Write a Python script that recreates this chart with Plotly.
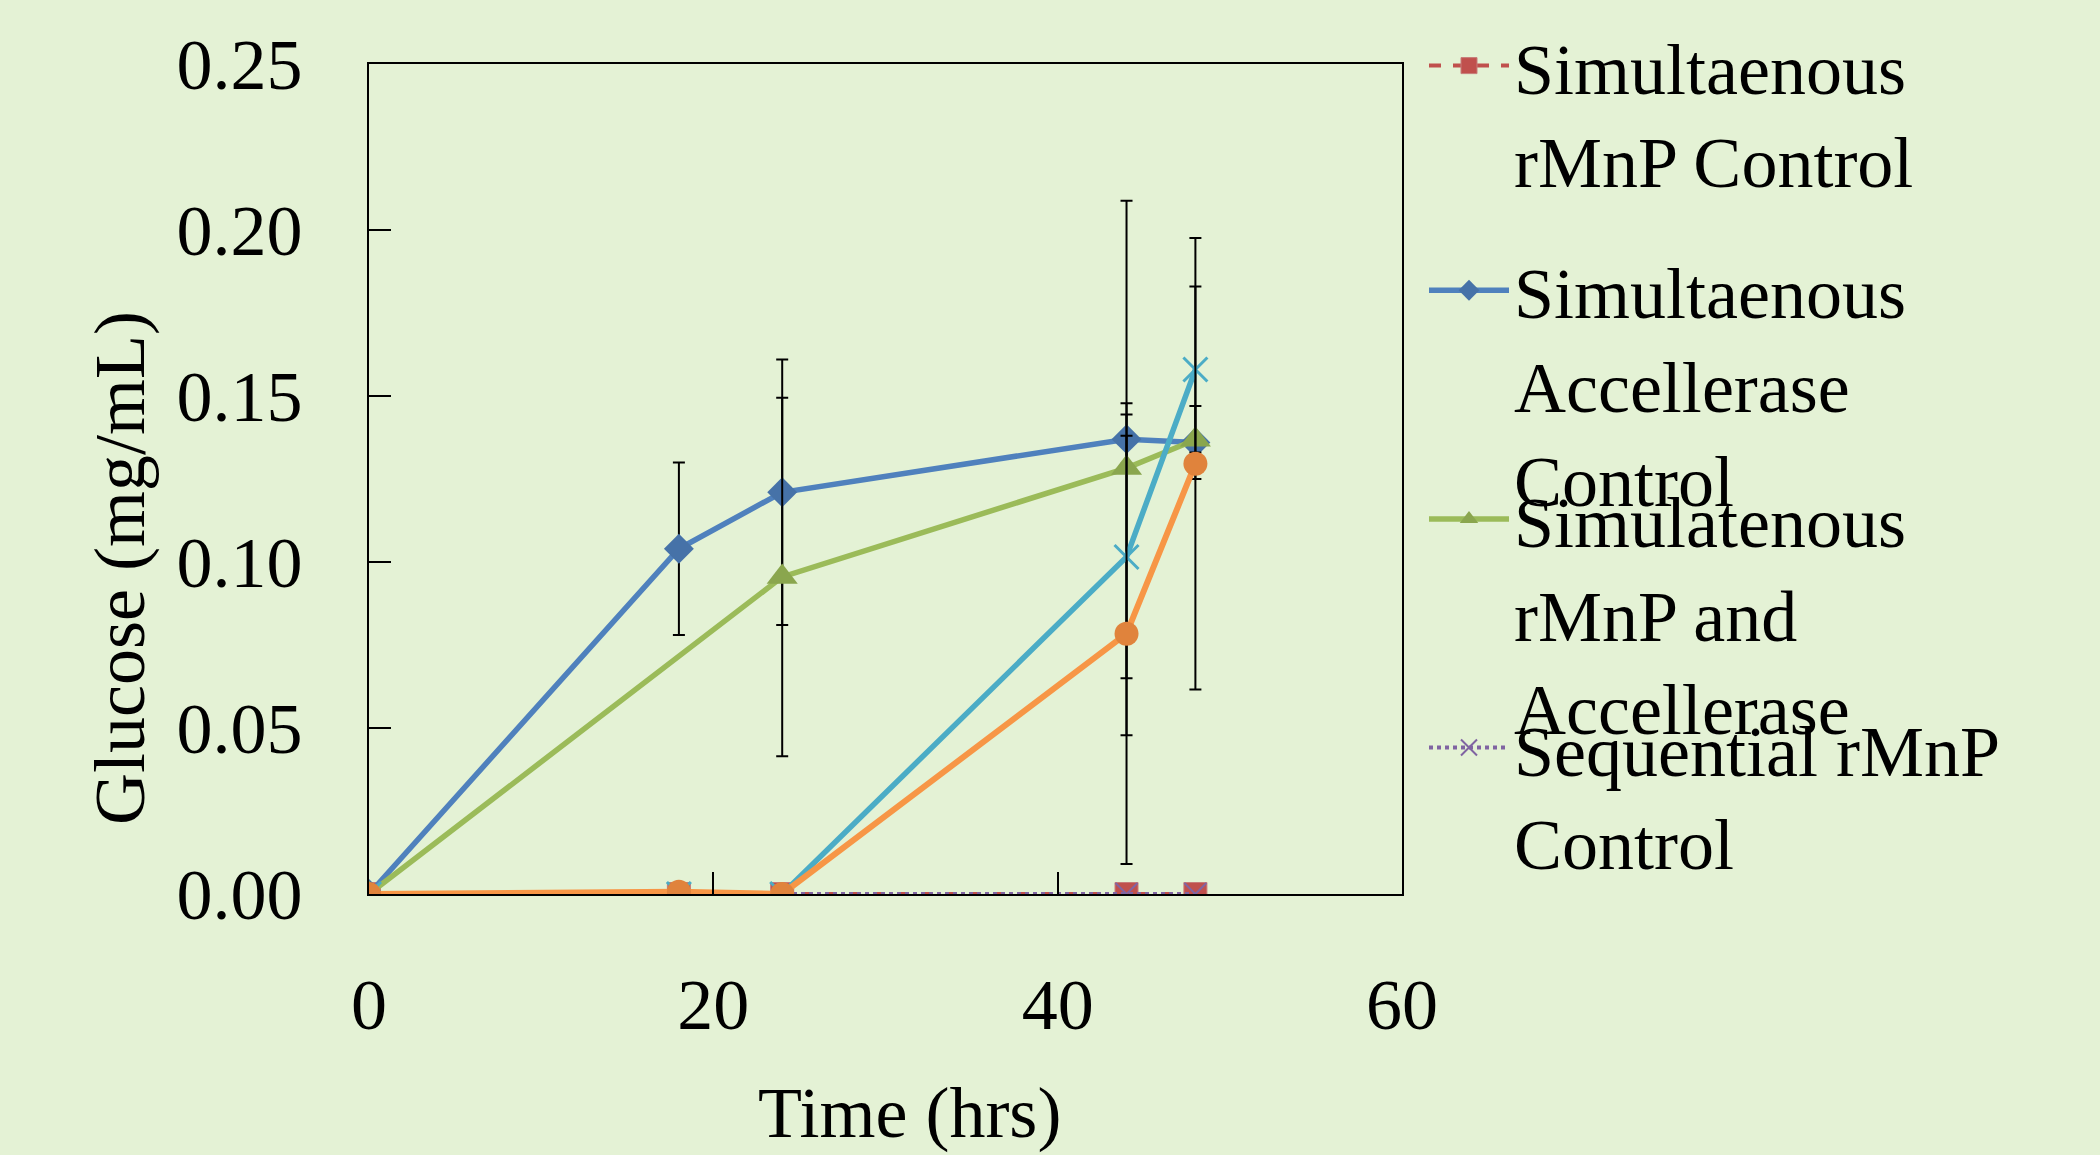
import plotly.graph_objects as go

# ---- data ----
time = [0, 18, 24, 44, 48]
time_green = [0, 24, 44, 48]

sim_rmnp_ctrl = [0, 0, 0, 0, 0]
sim_acc_ctrl = [0, 0.104, 0.121, 0.137, 0.136]
sim_acc_ctrl_err = [0, 0.026, 0.040, 0.0074, 0.011]
sim_rmnp_acc = [0, 0.0955, 0.1283, 0.1368]
sim_rmnp_acc_err = [0, 0.054, 0.0805, 0]
seq_rmnp_ctrl = [0, 0, 0, 0, 0]
seq_acc = [0, 0, 0, 0.1015, 0.158]
seq_acc_err = [0, 0, 0, 0.0365, 0.025]
seq_rmnp_acc = [0, 0.0007, 0, 0.0784, 0.1296]
seq_rmnp_acc_err = [0, 0, 0, 0.0694, 0.068]

names = [
    "Simultaenous<br>rMnP Control",
    "Simultaenous<br>Accellerase<br>Control",
    "Simulatenous<br>rMnP and<br>Accellerase",
    "Sequential rMnP<br>Control",
]

x_ticks = [0, 20, 40, 60]
y_ticks = [0, 0.05, 0.10, 0.15, 0.20, 0.25]

BG = "#E4F2D5"
FONT = "Liberation Serif"

def err(arr):
    return dict(type="data", array=arr, visible=True, color="black",
                thickness=2, width=6)

fig = go.Figure()

fig.add_trace(go.Scatter(
    x=time, y=sim_rmnp_ctrl, name=names[0], mode="lines+markers",
    legend="legend",
    line=dict(color="#C0504D", width=4, dash="dash"),
    marker=dict(symbol="square", size=23, color="#C0504D",
                line=dict(color="#C77C7A", width=1))))

fig.add_trace(go.Scatter(
    x=time, y=sim_acc_ctrl, name=names[1], mode="lines+markers",
    legend="legend2", error_y=err(sim_acc_ctrl_err),
    line=dict(color="#4F81BD", width=5.5),
    marker=dict(symbol="diamond", size=23, color="#4672A8")))

fig.add_trace(go.Scatter(
    x=time_green, y=sim_rmnp_acc, name=names[2], mode="lines+markers",
    legend="legend3", error_y=err(sim_rmnp_acc_err),
    line=dict(color="#9BBB59", width=5.5),
    marker=dict(symbol="triangle-up", size=27, color="#8AA64E")))

fig.add_trace(go.Scatter(
    x=time, y=seq_rmnp_ctrl, name=names[3], mode="lines+markers",
    legend="legend4",
    line=dict(color="#8064A2", width=4, dash="dot"),
    marker=dict(symbol="x-thin-open", size=22, color="#8064A2",
                line=dict(color="#8064A2", width=2))))

fig.add_trace(go.Scatter(
    x=time, y=seq_acc, name="Sequential Accellerase", mode="lines+markers",
    showlegend=False, error_y=err(seq_acc_err),
    line=dict(color="#4BACC6", width=5.5),
    marker=dict(symbol="x-thin-open", size=24, color="#4BACC6",
                line=dict(color="#4BACC6", width=3))))

fig.add_trace(go.Scatter(
    x=time, y=seq_rmnp_acc, name="Sequential rMnP and Accellerase",
    mode="lines+markers", showlegend=False, error_y=err(seq_rmnp_acc_err),
    line=dict(color="#F79646", width=6),
    marker=dict(symbol="circle", size=24, color="#E0833C")))

L, R, T, B = 369, 2100 - 1402, 59, 1155 - 894
PW, PH = 1402 - 369, 894 - 59

def leg(top_px):
    return dict(x=(1424 - L) / PW, xanchor="left",
                y=(894 - top_px) / PH, yanchor="top",
                valign="top", bgcolor="rgba(0,0,0,0)", borderwidth=0,
                font=dict(family=FONT, size=72, color="black"),
                itemwidth=80)

fig.update_layout(
    width=2100, height=1155,
    margin=dict(l=L, r=R, t=T, b=B),
    paper_bgcolor=BG, plot_bgcolor=BG,
    font=dict(family=FONT, size=72, color="black"),
    showlegend=True,
    legend=leg(7), legend2=leg(233), legend3=leg(463), legend4=leg(693),
    xaxis=dict(range=[0, 60], tickvals=x_ticks, ticktext=[str(v) for v in x_ticks],
               showgrid=False, zeroline=False, showline=True, linecolor="black",
               linewidth=2, mirror=True, ticks="inside", ticklen=22, tickwidth=2,
               tickcolor="black", ticklabelstandoff=47,
               tickfont=dict(family=FONT, size=72)),
    yaxis=dict(range=[0, 0.25], tickvals=y_ticks,
               ticktext=[f"{v:.2f}" for v in y_ticks],
               showgrid=False, zeroline=False, showline=True, linecolor="black",
               linewidth=2, mirror=True, ticks="inside", ticklen=22, tickwidth=2,
               tickcolor="black", ticklabelstandoff=50,
               tickfont=dict(family=FONT, size=72)),
    annotations=[
        dict(text="Time (hrs)", xref="paper", yref="paper",
             x=(909 - L) / PW, y=-(1114 - 894) / PH,
             xanchor="center", yanchor="middle", showarrow=False,
             font=dict(family=FONT, size=72)),
        dict(text="Glucose (mg/mL)", xref="paper", yref="paper",
             x=(120 - L) / PW, y=(894 - 566) / PH, textangle=-90,
             xanchor="center", yanchor="middle", showarrow=False,
             font=dict(family=FONT, size=72)),
    ],
)

fig.write_html(
    "out.html",
    config={"displayModeBar": False},
    post_script=(
        "document.body.style.margin='0';"
        "document.body.style.background='" + BG + "';"
        "document.documentElement.style.background='" + BG + "';"
    ),
)
